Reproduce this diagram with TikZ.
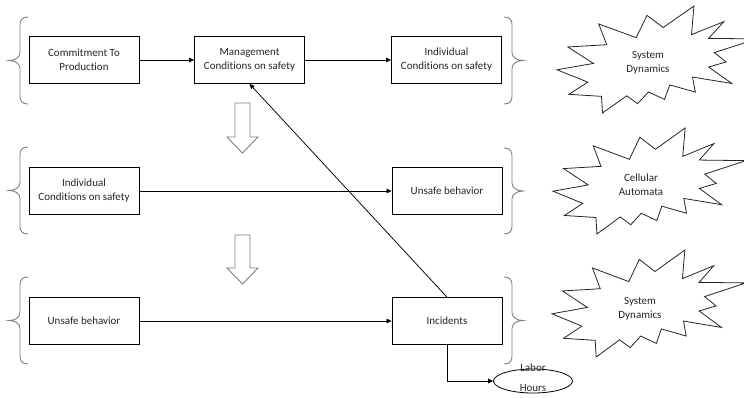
\documentclass[tikz,border=0pt]{standalone}
\usepackage{fontspec}
\setmainfont{Carlito}[RawFeature={-liga;-dlig;-clig}]
\usetikzlibrary{arrows.meta,shapes.geometric}
\definecolor{bgray}{HTML}{7F7F7F}
\definecolor{txt}{HTML}{262626}
\tikzset{
  box/.style={draw=black,line width=0.8pt,fill=white,minimum width=110pt,minimum height=47pt,inner sep=0pt,align=center,text=txt,font=\fontsize{11}{14}\selectfont},
  conn/.style={draw=black,line width=0.75pt},
  arr/.style={conn,-{Triangle[length=5pt,width=4.5pt]}},
  bracestyle/.style={draw=bgray,line width=0.9pt},
  blockarrow/.style={draw=bgray,line width=0.9pt,fill=white},
  burststyle/.style={draw=black!85,line width=0.8pt,fill=white,line join=miter},
  lbl/.style={align=center,text=txt,inner sep=0pt,font=\fontsize{11}{14}\selectfont}
}
\newcommand\mybrace[4]{%
  \begin{scope}[shift={(#1,#2)},xscale=#4]
    \pgfmathsetmacro\bh{#3-#2}\pgfmathsetmacro\bm{\bh/2}
    \draw[bracestyle] (0,0) .. controls (-6,0) and (-8,3) .. (-8,8) -- (-8,\bm-8)
      .. controls (-8,\bm-3) and (-13,\bm) .. (-19,\bm)
      .. controls (-13,\bm) and (-8,\bm+3) .. (-8,\bm+8) -- (-8,\bh-8)
      .. controls (-8,\bh-3) and (-6,\bh) .. (0,\bh);
  \end{scope}}
\newcommand\myburst[4]{%
  \begin{scope}[shift={(#1,#2)},xscale=#3/100,yscale=#4/100]
    \draw[burststyle] (53.065,20.10) -- (68.47,0) -- (67.245,26.745) -- (83.366,14.685)
      -- (75.833,30.24) -- (100,30.764) -- (78.634,43.528) -- (84.583,52.269)
      -- (75.833,56.99) -- (87.394,72.37) -- (67.778,66.435) -- (69.176,80.417)
      -- (56.389,73.773) -- (53.759,87.231) -- (45.704,80.417) -- (40.278,91.259)
      -- (34.847,83.912) -- (22.764,100) -- (22.245,84.444) -- (5.949,82.523)
      -- (15.417,71.157) -- (0,59.616) -- (18.218,53.667) -- (5.426,38.287)
      -- (24.870,36.19) -- (20.843,16.782) -- (39.583,29.546) -- (45.009,8.736) -- cycle;
  \end{scope}}
\begin{document}
\begin{tikzpicture}[x=1pt,y=-1pt]
\useasboundingbox[fill=white] (0,0) rectangle (744,397);
% braces
\mybrace{28}{17}{104}{1}
\mybrace{28}{147}{234}{1}
\mybrace{28}{277}{364}{1}
\mybrace{504}{17}{104}{-1}
\mybrace{504}{148}{234}{-1}
\mybrace{504}{277}{364}{-1}
% block arrows
\draw[blockarrow] (235,103) -- (250,103) -- (250,137) -- (258,137) -- (242.5,153) -- (227,137) -- (235,137) -- cycle;
\draw[blockarrow] (235,235) -- (250,235) -- (250,268) -- (258,268) -- (242.5,284) -- (227,268) -- (235,268) -- cycle;
% bursts
\myburst{557}{6}{200}{107}
\myburst{553}{128}{193}{106}
\myburst{552}{250}{194}{107}
\node[lbl] (sd1) at (648,63) {System\\Dynamics};
\node[lbl] (ca) at (641,185) {Cellular\\Automata};
\node[lbl] (sd2) at (640,309) {System\\Dynamics};
% boxes
\node[box] (commit) at (84,60) {Commitment To\\Production};
\node[box] (mgmt) at (249.5,60) {Management\\Conditions on safety};
\node[box] (ind1) at (446.5,60) {Individual\\Conditions on safety};
\node[box] (ind2) at (84,191) {Individual\\Conditions on safety};
\node[box] (unsafe2) at (447,191) {Unsafe behavior};
\node[box] (unsafe3) at (84,321) {Unsafe behavior};
\node[box] (inc) at (447,321) {Incidents};
\node[ellipse,draw=black,line width=0.8pt,minimum width=79pt,minimum height=24pt,inner sep=0pt] (labor) at (533,381) {};
\node[lbl,font=\fontsize{11}{20}\selectfont] (laborlbl) at (533,378) {Labor\\Hours};
% connectors
\draw[arr] (commit) -- (mgmt);
\draw[arr] (mgmt) -- (ind1);
\draw[arr] (ind2) -- (unsafe2);
\draw[arr] (unsafe3) -- (inc);
\draw[arr] (inc.north) -- (mgmt.south);
\draw[arr] (inc.south) |- (labor.west);
\end{tikzpicture}
\end{document}
